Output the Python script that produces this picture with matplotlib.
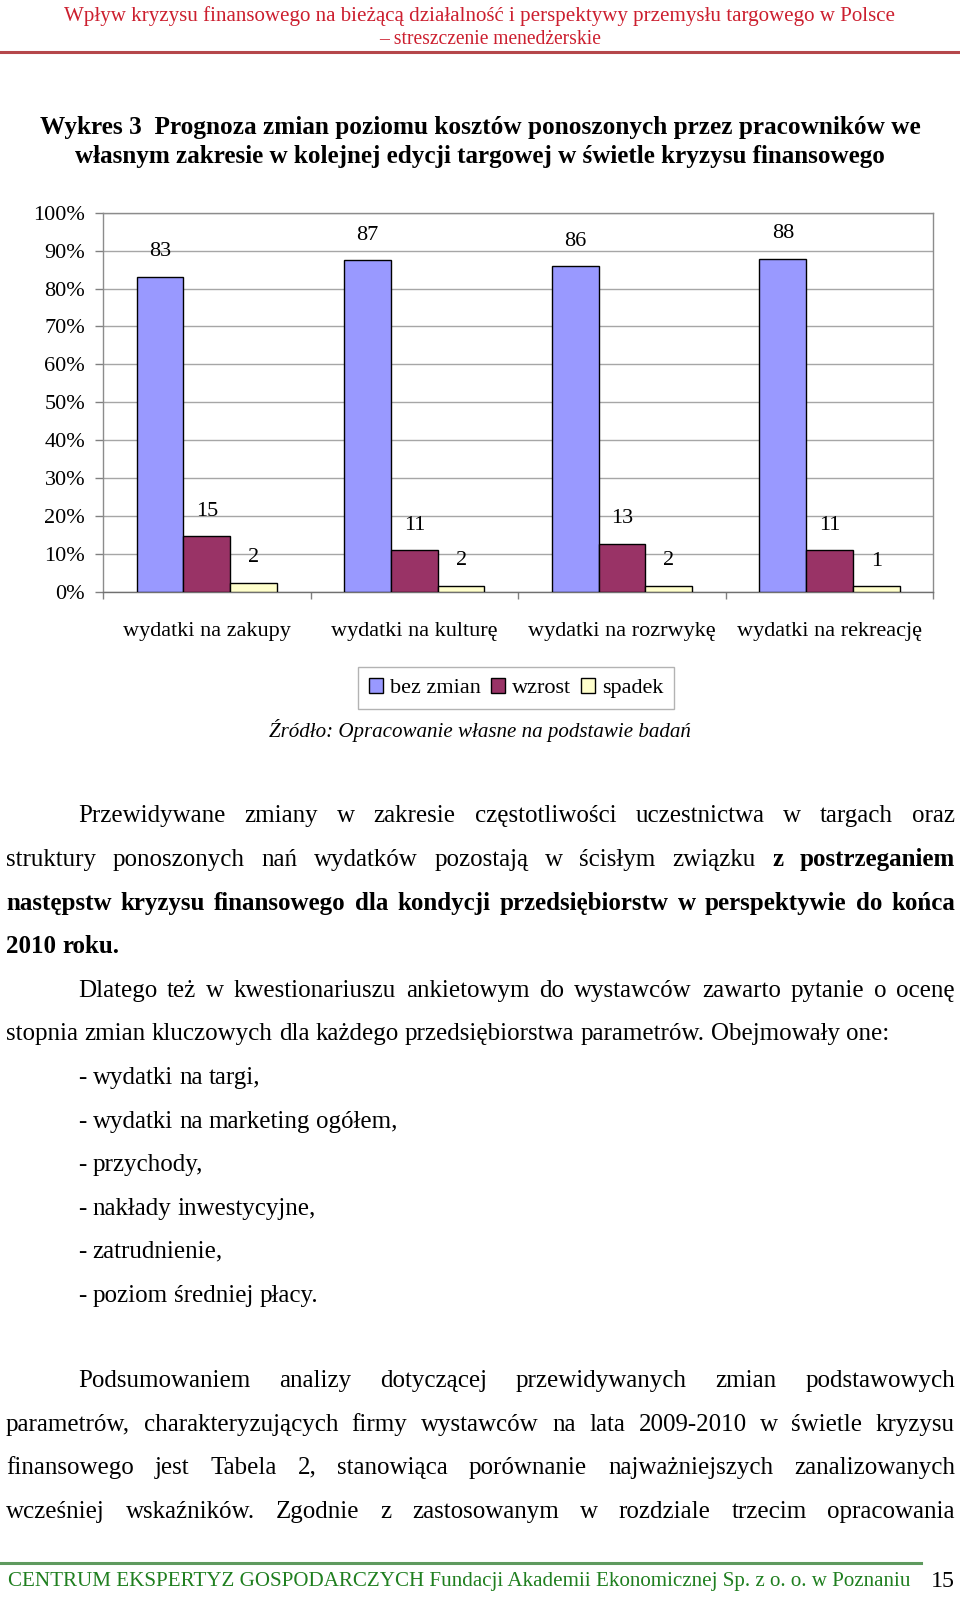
import matplotlib
matplotlib.use("Agg")
import matplotlib.pyplot as plt
from matplotlib.patches import Patch
from matplotlib.lines import Line2D
from matplotlib.transforms import IdentityTransform
from matplotlib.backends.backend_agg import get_hinting_flag
import numpy as np

# ---------------- data ----------------
categories = ["wydatki na zakupy", "wydatki na kulturę", "wydatki na rozrwykę", "wydatki na rekreację"]
series_names = ["bez zmian", "wzrost", "spadek"]
bez_zmian = [83.1, 87.4, 85.9, 87.9]
wzrost = [14.6, 11.0, 12.7, 11.0]
spadek = [2.4, 1.6, 1.6, 1.4]
y_ticks = [0, 10, 20, 30, 40, 50, 60, 70, 80, 90, 100]
y_tick_labels = ["0%", "10%", "20%", "30%", "40%", "50%", "60%", "70%", "80%", "90%", "100%"]
series_colors = ["#9999FF", "#993366", "#FFFFCC"]

header_lines = ["Wpływ kryzysu finansowego na bieżącą działalność i perspektywy przemysłu targowego w Polsce",
                "– streszczenie menedżerskie"]
title_lines = ["Wykres 3  Prognoza zmian poziomu kosztów ponoszonych przez pracowników we",
               "własnym zakresie w kolejnej edycji targowej w świetle kryzysu finansowego"]
source_text = "Źródło: Opracowanie własne na podstawie badań"

paragraph_1 = [
    [("Przewidywane zmiany w zakresie częstotliwości uczestnictwa w targach oraz", False)],
    [("struktury ponoszonych nań wydatków pozostają w ścisłym związku", False), ("z postrzeganiem", True)],
    [("następstw kryzysu finansowego dla kondycji przedsiębiorstw w perspektywie do końca", True)],
    [("2010 roku.", True)],
]
paragraph_2 = [
    [("Dlatego też w kwestionariuszu ankietowym do wystawców zawarto pytanie o ocenę", False)],
    [("stopnia zmian kluczowych dla każdego przedsiębiorstwa parametrów. Obejmowały one:", False)],
]
list_items = ["- wydatki na targi,", "- wydatki na marketing ogółem,", "- przychody,",
              "- nakłady inwestycyjne,", "- zatrudnienie,", "- poziom średniej płacy."]
paragraph_3 = [
    [("Podsumowaniem analizy dotyczącej przewidywanych zmian podstawowych", False)],
    [("parametrów, charakteryzujących firmy wystawców na lata 2009-2010 w świetle kryzysu", False)],
    [("finansowego jest Tabela 2, stanowiąca porównanie najważniejszych zanalizowanych", False)],
    [("wcześniej wskaźników. Zgodnie z zastosowanym w rozdziale trzecim opracowania", False)],
]
footer_text = "CENTRUM EKSPERTYZ GOSPODARCZYCH Fundacji Akademii Ekonomicznej Sp. z o. o. w Poznaniu"
page_number = "15"

# ---------------- setup ----------------
W, H, DPI = 960, 1597, 100
SERIF = ["Liberation Serif", "DejaVu Serif"]
plt.rcParams["font.family"] = SERIF
fig = plt.figure(figsize=(W / DPI, H / DPI), dpi=DPI)
fig.patch.set_facecolor("white")
renderer = fig.canvas.get_renderer()
PIX = IdentityTransform()


def fitted_text(s, cx, base_y, width, color="black", **kw):
    t = fig.text(cx, H - base_y, s, transform=PIX, ha="center", va="baseline",
                 fontsize=20, color=color, family=SERIF, **kw)
    w = t.get_window_extent(renderer).width
    t.set_fontsize(20 * width / w)
    return t


def baseline_shift(t, s):
    """Pixel row offset Agg introduces when rounding a word's descent."""
    try:
        font = renderer._prepare_font(t.get_fontproperties())
        font.set_text(s, 0.0, flags=get_hinting_flag())
        _, h = font.get_width_height()
        d = font.get_descent()
        A, D = (h - d) / 64.0, d / 64.0
        return round(D) - np.floor(A + D) + np.floor(A)
    except Exception:
        return 0


def word_text(x, base_y, s, size, bold):
    t = fig.text(x, H - base_y, s, transform=PIX, ha="left", va="baseline",
                 fontsize=size, fontweight="bold" if bold else "normal", family=SERIF)
    j = baseline_shift(t, s)
    t.set_y(H - (base_y - j))
    return t


def body_line(segments, base_y, x0, x1, size):
    base_y = round(base_y)
    words = [(w, b) for text, b in segments for w in text.split()]
    arts, total = [], 0.0
    for w, b in words:
        t = word_text(0, base_y, w, size, b)
        ww = t.get_window_extent(renderer).width
        arts.append((t, ww))
        total += ww
    if x1 is None or len(arts) == 1:
        gap = size * DPI / 72 * 0.25
    else:
        gap = (x1 - x0 - total) / (len(arts) - 1)
    x = x0
    for t, ww in arts:
        t.set_x(x)
        x += ww + gap


# ---------------- header ----------------
fitted_text(header_lines[0], 480, 20.5, 828, color="#cc1f2f")
fitted_text(header_lines[1], 490, 44.5, 222, color="#cc1f2f")
fig.add_artist(Line2D([0, W], [H - 52, H - 52], transform=PIX, color="#b5474b", lw=2.2))

# ---------------- chart title ----------------
fitted_text(title_lines[0], 480, 134, 878, fontweight="bold")
fitted_text(title_lines[1], 480, 163, 812, fontweight="bold")

# ---------------- chart ----------------
ax_l, ax_r, ax_t, ax_b = 103, 933.3, 212.7, 591.7
ax = fig.add_axes([ax_l / W, 1 - ax_b / H, (ax_r - ax_l) / W, (ax_b - ax_t) / H])
xpos = np.arange(len(categories))
bw = 0.225
for i, (vals, col, name) in enumerate(zip([bez_zmian, wzrost, spadek], series_colors, series_names)):
    bars = ax.bar(xpos + (i - 1) * bw, vals, bw, color=col, edgecolor="black",
                  linewidth=1.0, label=name, zorder=3)
    for b, v in zip(bars, vals):
        ax.annotate(f"{v:.0f}", (b.get_x() + b.get_width() / 2, b.get_height()),
                    xytext=(0, 18), textcoords="offset points", ha="center", va="center",
                    fontsize=16, family=SERIF, zorder=4)

ax.set_xlim(-0.5, len(categories) - 0.5)
ax.set_ylim(0, 100)
ax.set_yticks(y_ticks)
ax.set_yticklabels(y_tick_labels, fontsize=16, family=SERIF)
ax.yaxis.grid(True, color="#a6a6a6", lw=1.0, zorder=0)
ax.set_axisbelow(True)
ax.tick_params(axis="y", direction="out", length=5.8, width=1, color="#808080", pad=7)
ax.set_xticks(xpos)
ax.set_xticklabels(categories, fontsize=16, family=SERIF)
ax.tick_params(axis="x", which="major", length=0, pad=21.5)
ax.set_xticks(np.arange(-0.5, len(categories)), minor=True)
ax.tick_params(axis="x", which="minor", direction="out", length=5.2, width=1, color="#808080")
for sp in ax.spines.values():
    sp.set_color("#8c8c8c")
    sp.set_linewidth(1.0)
ax.spines["bottom"].set_color("#707070")

handles = [Patch(facecolor=c, edgecolor="black", lw=1) for c in series_colors]
leg = fig.legend(handles, series_names, loc="center", bbox_to_anchor=(516 / W, 1 - 688 / H),
                 ncol=3, frameon=True, fancybox=False, edgecolor="#a0a0a0",
                 prop={"family": SERIF, "size": 16}, handlelength=0.65, handleheight=0.65,
                 handletextpad=0.3, columnspacing=0.45, borderpad=0.5)
leg.get_frame().set_linewidth(1.0)

fitted_text(source_text, 480, 737, 421, fontstyle="italic")

# ---------------- body text ----------------
BODY = 18
STEP = 43.6
y0 = 822.3
LEFT, INDENT, RIGHT = 6, 78, 955
line_no = 0
for k, seg in enumerate(paragraph_1):
    x0 = INDENT if k == 0 else LEFT
    x1 = None if k == len(paragraph_1) - 1 else RIGHT
    body_line(seg, y0 + line_no * STEP, x0, x1, BODY)
    line_no += 1
for k, seg in enumerate(paragraph_2):
    x0 = INDENT if k == 0 else LEFT
    x1 = RIGHT if k == 0 else None
    body_line(seg, y0 + line_no * STEP, x0, x1, BODY)
    line_no += 1
for item in list_items:
    body_line([(item, False)], y0 + line_no * STEP, INDENT, None, BODY)
    line_no += 1
y3 = 1387
for k, seg in enumerate(paragraph_3):
    x0 = INDENT if k == 0 else LEFT
    body_line(seg, y3 + k * STEP, x0, RIGHT, BODY)

# ---------------- footer ----------------
fig.add_artist(Line2D([0, 921], [H - 1563, H - 1563], transform=PIX, color="#5e9a5e", lw=2.2))
fitted_text(footer_text, 459.5, 1586, 903, color="#1f7f1f")
fitted_text(page_number, 943, 1587, 24)

fig.savefig("out.png", dpi=DPI, facecolor="white")
